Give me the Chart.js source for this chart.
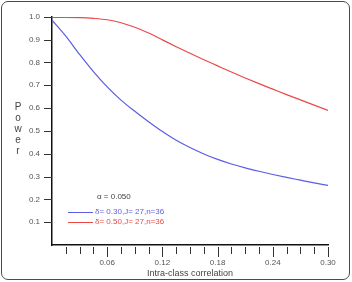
<!DOCTYPE html>
<html>
<head>
<meta charset="utf-8">
<script src="https://cdn.jsdelivr.net/npm/chart.js@4/dist/chart.umd.min.js"></script>
<style>
    body { margin: 0; background: #fff; }
    #wrap { position: relative; width: 352px; height: 282px; }
    #frame {
        position: absolute; left: 1px; top: 1px; width: 349px; height: 279px;
        box-sizing: border-box; border: 1.5px solid #4a4a4a; border-radius: 7px;
        pointer-events: none;
    }
</style>
</head>
<body>
<div id="wrap">
    <canvas id="chart" width="352" height="282"></canvas>
    <div id="frame"></div>
</div>
<script>
const iccValues = [0, 0.015, 0.03, 0.045, 0.06, 0.075, 0.09, 0.105, 0.12, 0.135, 0.15,
    0.165, 0.18, 0.195, 0.21, 0.225, 0.24, 0.255, 0.27, 0.285, 0.30];
const powerDelta30 = [0.985, 0.915, 0.835, 0.76, 0.693, 0.635, 0.586, 0.54, 0.497, 0.459, 0.427,
    0.399, 0.375, 0.355, 0.338, 0.323, 0.309, 0.296, 0.284, 0.272, 0.261];
const powerDelta50 = [0.997, 0.997, 0.996, 0.993, 0.987, 0.974, 0.954, 0.929, 0.899, 0.869, 0.84,
    0.812, 0.785, 0.758, 0.732, 0.707, 0.683, 0.659, 0.636, 0.613, 0.59];
const seriesLabels = ['\u03b4= 0.30,J= 27,n=36', '\u03b4= 0.50,J= 27,n=36'];
const alphaLabel = '\u03b1 = 0.050';
const xMajorTicks = [0.06, 0.12, 0.18, 0.24, 0.30];
const yTicks = [0.1, 0.2, 0.3, 0.4, 0.5, 0.6, 0.7, 0.8, 0.9, 1.0];

const BLUE = 'rgb(92, 92, 230)';
const RED = 'rgb(236, 72, 72)';
const FONT = '"Liberation Sans", Arial, sans-serif';

const toPoints = (ys) => iccValues.map((x, i) => ({ x: x, y: ys[i] }));

// tick marks, stacked y title and the inset legend
const decorations = {
    id: 'decorations',
    afterDraw(chart) {
        const ctx = chart.ctx;
        const xs = chart.scales.x;
        const ys = chart.scales.y;
        ctx.save();
        ctx.strokeStyle = '#333';
        ctx.lineWidth = 1;

        for (let i = 1; i <= 20; i++) {
            const px = Math.round(xs.getPixelForValue(i * 0.015)) + 0.5;
            const len = i % 4 === 0 ? 10 : 7;
            ctx.beginPath();
            ctx.moveTo(px, xs.top + 2);
            ctx.lineTo(px, xs.top + 2 + len);
            ctx.stroke();
        }
        yTicks.forEach(v => {
            const py = Math.round(ys.getPixelForValue(v)) + 0.5;
            ctx.beginPath();
            ctx.moveTo(ys.right - 8, py);
            ctx.lineTo(ys.right, py);
            ctx.stroke();
        });

        ctx.fillStyle = '#444';
        ctx.font = '10px ' + FONT;
        ctx.textAlign = 'center';
        ctx.textBaseline = 'middle';
        'Power'.split('').forEach((ch, i) => {
            ctx.fillText(ch, 18, 107 + i * 11);
        });

        ctx.font = '8px ' + FONT;
        ctx.textAlign = 'left';
        ctx.fillStyle = '#444';
        ctx.fillText(alphaLabel, 97, 197);

        [[BLUE, seriesLabels[0], 212], [RED, seriesLabels[1], 222]].forEach(([c, t, y]) => {
            ctx.strokeStyle = c;
            ctx.beginPath();
            ctx.moveTo(68, y + 0.5);
            ctx.lineTo(93, y + 0.5);
            ctx.stroke();
            ctx.fillStyle = c;
            ctx.fillText(t, 95, y);
        });
        ctx.restore();
    }
};

new Chart(document.getElementById('chart'), {
    type: 'line',
    data: {
        datasets: [
            {
                label: seriesLabels[0],
                data: toPoints(powerDelta30),
                borderColor: BLUE,
                borderWidth: 1.2,
                pointRadius: 0,
                cubicInterpolationMode: 'monotone',
            },
            {
                label: seriesLabels[1],
                data: toPoints(powerDelta50),
                borderColor: RED,
                borderWidth: 1.2,
                pointRadius: 0,
                cubicInterpolationMode: 'monotone',
            },
        ],
    },
    options: {
        responsive: false,
        animation: false,
        layout: { padding: { left: 0, right: 24, top: 13, bottom: 0 } },
        plugins: {
            legend: { display: false },
            tooltip: { enabled: false },
        },
        scales: {
            x: {
                type: 'linear',
                min: 0,
                max: 0.3,
                afterFit(scale) { scale.height = 37; },
                afterBuildTicks(scale) { scale.ticks = xMajorTicks.map(v => ({ value: v })); },
                ticks: {
                    color: '#555',
                    font: { family: FONT, size: 8 },
                    padding: 13,
                    maxRotation: 0,
                    callback: (v) => v.toFixed(2),
                },
                grid: { display: false, drawTicks: false },
                border: { display: true, color: '#111', width: 1.5 },
                title: {
                    display: true,
                    text: 'Intra-class correlation',
                    color: '#444',
                    font: { family: FONT, size: 9 },
                    padding: { top: 0, bottom: 3 },
                },
            },
            y: {
                min: 0,
                max: 1.0,
                afterFit(scale) { scale.width = 52; },
                afterBuildTicks(scale) { scale.ticks = yTicks.map(v => ({ value: v })); },
                ticks: {
                    color: '#555',
                    font: { family: FONT, size: 8 },
                    padding: 12,
                    callback: (v) => v.toFixed(1),
                },
                grid: { display: false, drawTicks: false },
                border: { display: true, color: '#111', width: 1.5 },
            },
        },
    },
    plugins: [decorations],
});
</script>
</body>
</html>
